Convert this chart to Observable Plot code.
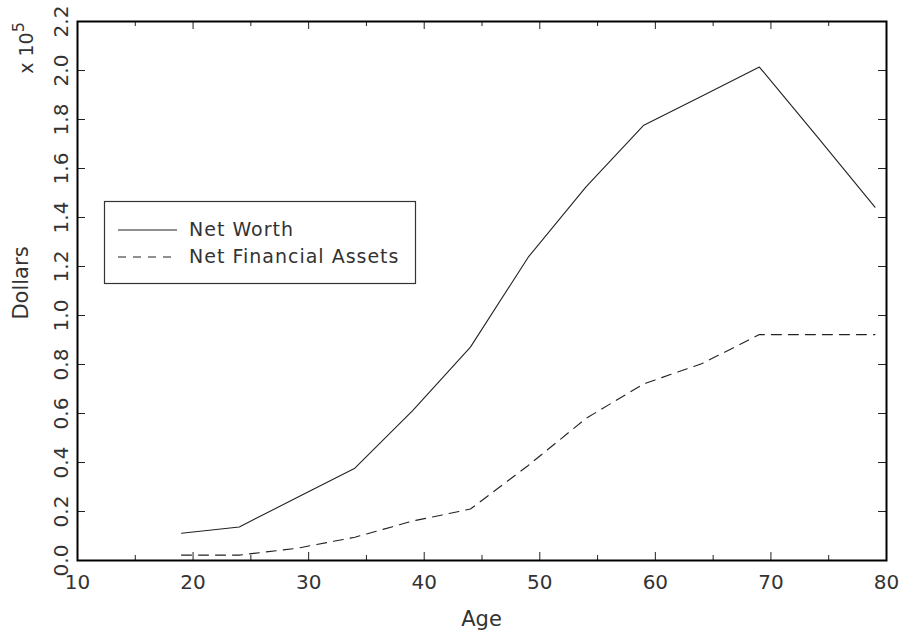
<!DOCTYPE html>
<html><head><meta charset="utf-8">
<script src="https://cdn.jsdelivr.net/npm/d3@7"></script>
<script src="https://cdn.jsdelivr.net/npm/@observablehq/plot@0.6"></script>
<style>body{margin:0;background:#fff} svg{display:block}</style>
</head><body><div id="chart"></div>
<script>
// values in units of 10^5 dollars
const ages = [19, 24, 29, 34, 39, 44, 49, 54, 59, 64, 69, 74, 79];
const netWorth = [0.111, 0.137, 0.257, 0.377, 0.612, 0.871, 1.238, 1.525, 1.777, 1.895, 2.014, 1.73, 1.442];
const netFinancial = [0.022, 0.022, 0.05, 0.095, 0.161, 0.21, 0.388, 0.58, 0.721, 0.803, 0.922, 0.922, 0.922];
const seriesNames = ["Net Worth", "Net Financial Assets"];
const xTicks = [10, 20, 30, 40, 50, 60, 70, 80];
const xMinorTicks = [15, 25, 35, 45, 55, 65, 75];
const yTicks = [0, 0.2, 0.4, 0.6, 0.8, 1.0, 1.2, 1.4, 1.6, 1.8, 2.0, 2.2];
const xLabel = "Age";
const yLabel = "Dollars";

const nw = ages.map((a, i) => ({age: a, v: netWorth[i]}));
const nfa = ages.map((a, i) => ({age: a, v: netFinancial[i]}));
const fmt = d3.format(".1f");
const FONT = "DejaVu Sans, sans-serif";
const INK = "#222";
const TXT = "#333";

const chart = Plot.plot({
  width: 904, height: 635,
  marginLeft: 77, marginRight: 18, marginTop: 21, marginBottom: 75,
  style: {fontFamily: FONT, background: "#fff", color: INK},
  x: {domain: [10, 80], axis: null},
  y: {domain: [0, 2.2], axis: null},
  marks: [
    Plot.ruleX(xTicks, {x: d => d, y1: 0, y2: 0, insetTop: -8, stroke: INK}),
    Plot.ruleX(xMinorTicks, {x: d => d, y1: 0, y2: 0, insetTop: -5, stroke: INK}),
    Plot.ruleX(xTicks, {x: d => d, y1: 2.2, y2: 2.2, insetBottom: -8, stroke: INK}),
    Plot.ruleX(xMinorTicks, {x: d => d, y1: 2.2, y2: 2.2, insetBottom: -5, stroke: INK}),
    Plot.ruleY(yTicks, {y: d => d, x1: 10, x2: 10, insetRight: -8, stroke: INK}),
    Plot.ruleY(yTicks, {y: d => d, x1: 80, x2: 80, insetLeft: -8, stroke: INK}),
    Plot.frame({stroke: "#000", strokeWidth: 2}),
    Plot.text(xTicks, {x: d => d, y: 0, dy: 22, text: d => String(d), fontSize: 20, fill: TXT, lineAnchor: "middle"}),
    Plot.text(yTicks, {x: 10, y: d => d, dx: -16, text: d => fmt(d), rotate: -90, fontSize: 20, fill: TXT, textAnchor: "middle", lineAnchor: "middle"}),
    Plot.line(nw, {x: "age", y: "v", stroke: INK, strokeWidth: 1.1}),
    Plot.line(nfa, {x: "age", y: "v", stroke: INK, strokeWidth: 1.1, strokeDasharray: "10,7"})
  ]
});

const svg = d3.select(chart);
svg.append("text").attr("x", 481.5).attr("y", 620).attr("text-anchor", "middle")
  .attr("dominant-baseline", "middle").attr("font-size", 21).attr("fill", TXT)
  .attr("font-family", FONT).text(xLabel);
svg.append("text").attr("transform", "translate(22,283) rotate(-90)").attr("text-anchor", "middle")
  .attr("dominant-baseline", "middle").attr("font-size", 21).attr("fill", TXT)
  .attr("font-family", FONT).text(yLabel);
const sc = svg.append("text").attr("transform", "translate(27,48) rotate(-90)").attr("text-anchor", "middle")
  .attr("dominant-baseline", "middle").attr("font-size", 19).attr("fill", TXT).attr("font-family", FONT);
sc.append("tspan").text("x 10");
sc.append("tspan").attr("dy", -8).attr("font-size", 16).text("5");

// legend
const lg = svg.append("g").attr("font-family", FONT).attr("font-size", 19).attr("fill", TXT)
  .attr("text-anchor", "start").attr("letter-spacing", 1);
lg.append("rect").attr("x", 104.5).attr("y", 201.5).attr("width", 311).attr("height", 82)
  .attr("fill", "#fff").attr("stroke", "#333").attr("stroke-width", 1.2);
const dashes = [null, "8,7"];
seriesNames.forEach((name, i) => {
  const y = 230 + i * 27;
  lg.append("line").attr("x1", 118).attr("x2", 177).attr("y1", y).attr("y2", y)
    .attr("stroke", INK).attr("stroke-width", 1.1).attr("stroke-dasharray", dashes[i]);
  lg.append("text").attr("x", 189).attr("y", y).attr("dominant-baseline", "middle").attr("text-anchor", "start").text(name);
});

document.getElementById("chart").appendChild(chart);
</script>
</body></html>
